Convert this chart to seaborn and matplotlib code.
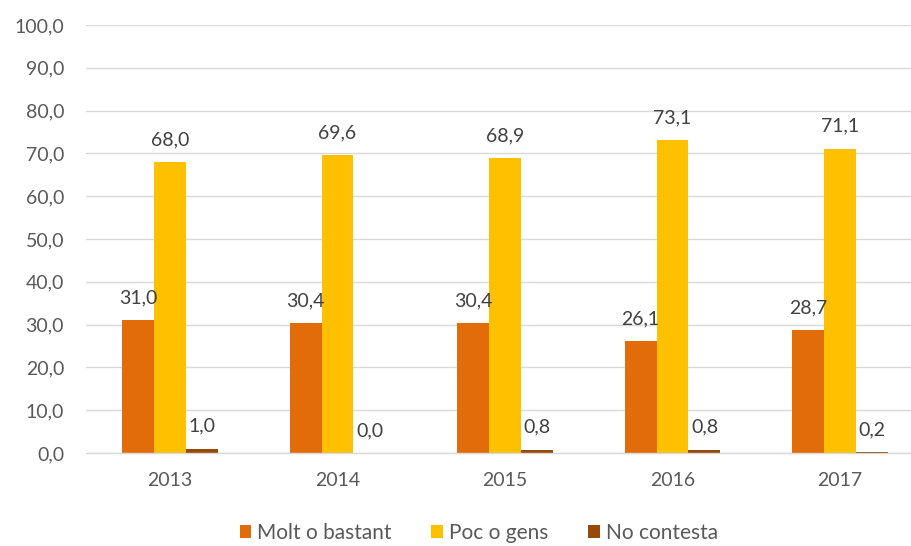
import matplotlib
matplotlib.use("Agg")
import matplotlib.pyplot as plt
import seaborn as sns
import pandas as pd

years = ["2013", "2014", "2015", "2016", "2017"]
series = ["Molt o bastant", "Poc o gens", "No contesta"]
molt = [31.0, 30.4, 30.4, 26.1, 28.7]
poc = [68.0, 69.6, 68.9, 73.1, 71.1]
nocont = [1.0, 0.0, 0.8, 0.8, 0.2]
colors = ["#E36C0A", "#FFC000", "#984807"]
yticks = [0, 10, 20, 30, 40, 50, 60, 70, 80, 90, 100]

rows = []
for name, vals in zip(series, [molt, poc, nocont]):
    for y, v in zip(years, vals):
        rows.append({"year": y, "serie": name, "value": v})
df = pd.DataFrame(rows)

sns.set_theme(style="white")
plt.rcParams["font.family"] = ["Lato", "DejaVu Sans"]

fig = plt.figure(figsize=(9.12, 5.46), dpi=100)
ax = fig.add_axes([86.25 / 912, 93 / 546, 837.5 / 912, 428 / 546])

sns.barplot(data=df, x="year", y="value", hue="serie", order=years, hue_order=series,
            palette=colors, width=0.573, gap=0, saturation=1, ax=ax, legend=True,
            linewidth=0, edgecolor="none")

ax.set_ylim(0, 100)
ax.set_xlim(-0.5, 4.5)
ax.set_yticks(yticks)
ax.set_yticklabels([f"{t:.1f}".replace(".", ",") for t in yticks])
ax.grid(axis="y", color="#D9D9D9", linewidth=1)
ax.set_axisbelow(True)
for s in ["top", "right", "left"]:
    ax.spines[s].set_visible(False)
ax.spines["bottom"].set_color("#D9D9D9")
ax.spines["bottom"].set_linewidth(1)
ax.tick_params(axis="both", length=0, labelsize=14, labelcolor="#595959")
ax.tick_params(axis="y", pad=16)
ax.tick_params(axis="x", pad=14)
ax.set_xlabel("")
ax.set_ylabel("")

for cont in ax.containers:
    labels = [f"{b.get_height():.1f}".replace(".", ",") for b in cont]
    ax.bar_label(cont, labels=labels, padding=10, fontsize=14, color="#404040")

handles, labs = ax.get_legend_handles_labels()
ax.legend_.remove()
fig.legend(handles, labs, loc="center", bbox_to_anchor=(0.525, 0.024), ncol=3,
           frameon=False, fontsize=15, labelcolor="#595959", handlelength=0.55,
           handleheight=0.55, handletextpad=0.3, columnspacing=1.9,
           borderpad=0.1)

fig.savefig("out.png", dpi=100)
